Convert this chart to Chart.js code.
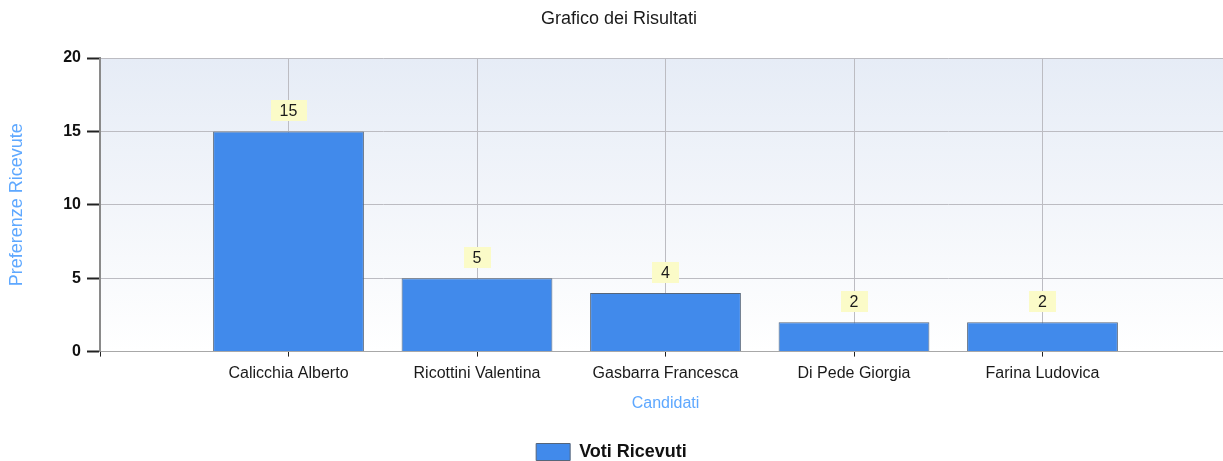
<!DOCTYPE html>
<html>
<head>
<meta charset="utf-8">
<script src="https://cdn.jsdelivr.net/npm/chart.js@4"></script>
<style>
  html, body { margin: 0; padding: 0; overflow: hidden; background: #fff; }
  #contenitore { width: 1238px; height: 461px; }
</style>
</head>
<body>
<div id="contenitore"><canvas id="grafico"></canvas></div>
<script>
// dati
const candidati = ["Calicchia Alberto", "Ricottini Valentina", "Gasbarra Francesca", "Di Pede Giorgia", "Farina Ludovica"];
const voti = [15, 5, 4, 2, 2];
const yMin = 0;
const yMax = 20;
const yPasso = 5;

const FONT = '"Liberation Sans", Arial, sans-serif';

// categorie vuote ai lati, come nel grafico originale
const etichette = ["", ...candidati, ""];
const valori = [null, ...voti, null];

// sfondo sfumato dell'area del grafico
const sfondo = {
  id: "sfondo",
  beforeDraw(chart) {
    const { ctx, chartArea: a } = chart;
    const g = ctx.createLinearGradient(0, a.top, 0, a.bottom);
    g.addColorStop(0, "#e6ecf6");
    g.addColorStop(1, "#ffffff");
    ctx.save();
    ctx.fillStyle = g;
    ctx.fillRect(a.left, a.top, a.right - a.left, a.bottom - a.top);
    ctx.restore();
  }
};

// la legenda va centrata sulla finestra visibile, non sul canvas
const centraLegenda = {
  id: "centraLegenda",
  afterLayout(chart) {
    const l = chart.legend;
    if (!l) return;
    l.left = 0;
    l.right = window.innerWidth;
    l.width = window.innerWidth;
  }
};

// etichette gialle sopra le barre
const etichetteValori = {
  id: "etichetteValori",
  afterDatasetsDraw(chart) {
    const ctx = chart.ctx;
    const meta = chart.getDatasetMeta(0);
    const dati = chart.data.datasets[0].data;
    ctx.save();
    ctx.font = "16px " + FONT;
    ctx.textAlign = "center";
    ctx.textBaseline = "middle";
    meta.data.forEach((bar, i) => {
      if (dati[i] == null) return;
      const testo = String(dati[i]);
      const w = ctx.measureText(testo).width + 18;
      const h = 21;
      const y = bar.y - 10 - h;
      ctx.fillStyle = "#fbfbc8";
      ctx.fillRect(Math.round(bar.x - w / 2), Math.round(y), Math.round(w), h);
      ctx.fillStyle = "#1a1a1a";
      ctx.fillText(testo, bar.x, y + h / 2 + 1);
    });
    ctx.restore();
  }
};

new Chart(document.getElementById("grafico"), {
  type: "bar",
  data: {
    labels: etichette,
    datasets: [{
      label: "Voti Ricevuti",
      data: valori,
      backgroundColor: "#418aeb",
      borderColor: "#55657a",
      borderWidth: 1,
      barPercentage: 0.8,
      categoryPercentage: 1
    }]
  },
  options: {
    responsive: true,
    maintainAspectRatio: false,
    animation: false,
    layout: { padding: { left: 0, right: 0, top: 0, bottom: -10 } },
    plugins: {
      title: {
        display: true,
        text: "Grafico dei Risultati",
        color: "#1a1a1a",
        font: { family: FONT, size: 18, weight: "normal" },
        padding: { top: 8, bottom: 28.4 }
      },
      legend: {
        display: true,
        position: "bottom",
        labels: {
          boxWidth: 34,
          boxHeight: 17,
          color: "#111",
          font: { family: FONT, size: 18, weight: "bold" },
          padding: 0
        }
      },
      tooltip: { enabled: false }
    },
    scales: {
      x: {
        offset: false,
        grid: {
          offset: false,
          color: "#bcbcc2",
          tickColor: "#222",
          tickLength: 5
        },
        border: { color: "#a8a8a8", width: 1 },
        ticks: {
          color: "#1a1a1a",
          font: { family: FONT, size: 16 },
          padding: 7,
          maxRotation: 0,
          autoSkip: false
        },
        title: {
          display: true,
          text: "Candidati",
          color: "#5ea8ff",
          font: { family: FONT, size: 16 },
          padding: { top: 4, bottom: 30 }
        }
      },
      y: {
        min: yMin,
        max: yMax,
        afterFit(scale) { scale.width = 100; },
        grid: {
          color: "#bcbcc2",
          tickColor: "#222",
          tickWidth: 2,
          tickLength: 13
        },
        border: { color: "#8a8a8a", width: 2 },
        ticks: {
          stepSize: yPasso,
          color: "#111",
          font: { family: FONT, size: 16, weight: "bold" },
          padding: 6
        },
        title: {
          display: true,
          text: "Preferenze Ricevute",
          color: "#5ea8ff",
          font: { family: FONT, size: 18 },
          padding: { top: 6, bottom: 0 }
        }
      }
    }
  },
  plugins: [sfondo, centraLegenda, etichetteValori]
});
</script>
</body>
</html>
